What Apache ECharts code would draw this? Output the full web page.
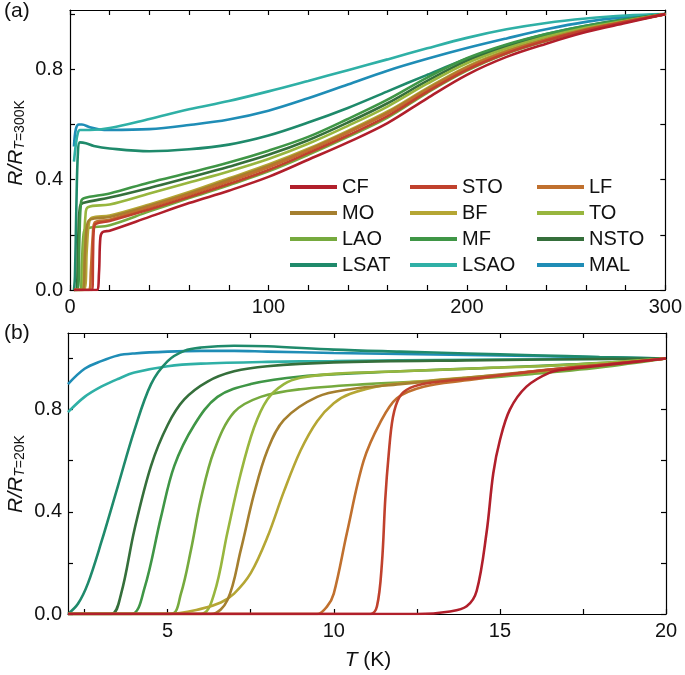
<!DOCTYPE html>
<html>
<head>
<meta charset="utf-8">
<script src="https://cdn.jsdelivr.net/npm/echarts@6/dist/echarts.min.js"></script>
<style>
html,body{margin:0;padding:0;background:#fff;}
#chart{width:685px;height:675px;}
</style>
</head>
<body>
<div id="chart"></div>
<script>
// ---------- DATA ----------
const names = ['CF','STO','LF','MO','BF','TO','LAO','MF','NSTO','LSAT','LSAO','MAL'];

// Panel (a): R/R(300K) vs T (0-300 K)
// shared temperature grid above 20 K
const aT = [20,40,60,80,100,120,140,160,180,200,220,240,260,280,300];
const aHi_CF   = [0.215,0.265,0.315,0.36,0.41,0.472,0.535,0.605,0.695,0.78,0.845,0.893,0.935,0.968,1];
const aHi_STO  = [0.25,0.292,0.337,0.384,0.435,0.496,0.56,0.63,0.718,0.798,0.858,0.904,0.942,0.972,1];
const aHi_LF   = [0.255,0.3,0.345,0.393,0.445,0.505,0.57,0.64,0.725,0.805,0.863,0.907,0.944,0.973,1];
const aHi_MO   = [0.265,0.305,0.35,0.4,0.45,0.508,0.573,0.643,0.728,0.807,0.865,0.909,0.945,0.973,1];
const aHi_BF   = [0.27,0.31,0.355,0.405,0.455,0.512,0.577,0.647,0.732,0.81,0.868,0.91,0.946,0.974,1];
const aHi_TO   = [0.31,0.35,0.39,0.43,0.475,0.53,0.595,0.665,0.748,0.822,0.876,0.918,0.951,0.976,1];
const aHi_LAO  = [0.235,0.285,0.333,0.38,0.43,0.49,0.555,0.625,0.715,0.795,0.857,0.903,0.942,0.971,1];
const aHi_MF   = [0.35,0.39,0.425,0.462,0.505,0.555,0.62,0.69,0.77,0.84,0.89,0.928,0.958,0.98,1];
const aHi_NSTO = [0.335,0.37,0.408,0.447,0.49,0.543,0.607,0.677,0.758,0.831,0.883,0.923,0.955,0.978,1];
const aHi_LSAT = [0.513,0.503,0.51,0.527,0.56,0.607,0.66,0.72,0.78,0.838,0.887,0.928,0.958,0.982,1];
const aHi_LSAO = [0.587,0.62,0.655,0.685,0.72,0.758,0.797,0.836,0.876,0.914,0.945,0.968,0.984,0.995,1];
const aHi_MAL  = [0.58,0.583,0.598,0.618,0.65,0.695,0.745,0.795,0.838,0.877,0.912,0.945,0.972,0.99,1];
// low temperature part (T < 20 K), [T, R/R300]
const aLo_CF   = [[2,0],[13.5,0],[14.6,0.06],[15.3,0.19],[16.5,0.21]];
const aLo_STO  = [[2,0],[11.2,0],[11.6,0.12],[12,0.22],[13,0.24]];
const aLo_LF   = [[2,0],[9.6,0],[10.5,0.07],[11.5,0.2],[12.5,0.245]];
const aLo_MO   = [[2,0],[6.5,0],[7.5,0.13],[8.5,0.23],[10,0.255]];
const aLo_BF   = [[2,0],[7,0],[8.5,0.15],[9.5,0.24],[11,0.262]];
const aLo_TO   = [[2,0],[6,0],[7,0.15],[7.8,0.27],[9,0.3]];
const aLo_LAO  = [[2,0],[5,0],[6,0.1],[6.8,0.2],[8,0.222]];
const aLo_MF   = [[2,0],[3.8,0],[4.8,0.2],[5.6,0.32],[7,0.333]];
const aLo_NSTO = [[2,0],[3.2,0],[4.2,0.2],[5,0.3],[6.5,0.315]];
const aLo_LSAT = [[2,0],[2.5,0.05],[3.2,0.3],[4,0.5],[5,0.535],[8,0.532],[12,0.522]];
const aLo_LSAO = [[2,0.465],[3,0.53],[4,0.57],[5,0.58],[10,0.58]];
const aLo_MAL  = [[2,0.52],[3,0.585],[4.5,0.6],[6,0.6],[10,0.59],[15,0.582]];

// Panel (b): R/R(20K) vs T (2-20 K), [T, R/R20]
const b_CF   = [[2,0],[12.5,0],[13.5,0.01],[14,0.03],[14.3,0.09],[14.6,0.32],[14.8,0.55],[15,0.68],[15.3,0.8],[15.8,0.89],[16.5,0.945],[17,0.958],[18,0.972],[19,0.986],[20,1]];
const b_STO  = [[2,0],[11.1,0],[11.3,0.03],[11.45,0.2],[11.55,0.45],[11.65,0.62],[11.78,0.77],[11.98,0.85],[12.3,0.885],[12.9,0.905],[14.4,0.925],[16.4,0.955],[18,0.975],[20,1]];
const b_LF   = [[2,0],[9.5,0],[9.8,0.03],[10,0.08],[10.4,0.32],[10.9,0.6],[11.4,0.75],[11.9,0.845],[12.7,0.89],[14,0.915],[16,0.95],[18,0.975],[20,1]];
const b_MO   = [[2,0],[6.3,0],[6.8,0.055],[7.2,0.25],[7.6,0.47],[8,0.64],[8.5,0.76],[9.5,0.85],[10.5,0.88],[12,0.9],[14,0.925],[16,0.95],[18,0.975],[20,1]];
const b_BF   = [[2,0],[5,0],[6,0.02],[6.6,0.045],[7,0.08],[7.5,0.16],[8,0.3],[8.5,0.48],[9,0.64],[9.5,0.755],[10,0.825],[10.5,0.862],[11.5,0.895],[13,0.915],[15,0.935],[17,0.96],[20,1]];
const b_TO   = [[2,0],[6,0],[6.4,0.08],[6.8,0.32],[7.2,0.55],[7.6,0.73],[8,0.84],[8.5,0.9],[9,0.925],[10,0.94],[12,0.95],[14,0.96],[17,0.975],[20,1]];
const b_LAO  = [[2,0],[5.1,0],[5.4,0.08],[5.7,0.25],[6,0.45],[6.4,0.64],[7,0.79],[7.8,0.85],[9,0.88],[11,0.9],[13.8,0.918],[16,0.94],[18,0.965],[20,1]];
const b_MF   = [[2,0],[3.9,0],[4.3,0.1],[4.8,0.38],[5.2,0.58],[5.8,0.74],[6.5,0.85],[7.5,0.9],[9,0.93],[12,0.95],[15,0.965],[18,0.982],[20,1]];
const b_NSTO = [[2,0],[3.3,0],[3.6,0.08],[4,0.33],[4.5,0.58],[5,0.74],[5.5,0.84],[6.2,0.91],[7,0.95],[8,0.97],[10,0.985],[14,0.993],[20,1]];
const b_LSAT = [[2,0],[2.3,0.04],[2.6,0.12],[3,0.28],[3.5,0.5],[4,0.72],[4.5,0.9],[5,0.99],[5.5,1.03],[6,1.043],[7,1.05],[8,1.048],[10,1.035],[12,1.027],[14,1.02],[16,1.013],[18,1.006],[20,1]];
const b_LSAO = [[2,0.79],[2.5,0.85],[3,0.89],[3.5,0.92],[4,0.945],[5,0.97],[6,0.98],[8,0.987],[10,0.99],[14,0.995],[20,1]];
const b_MAL  = [[2,0.9],[2.5,0.96],[3,0.99],[3.5,1.012],[4,1.02],[5,1.027],[6,1.03],[7,1.03],[8,1.027],[10,1.022],[12,1.018],[14,1.014],[16,1.01],[18,1.005],[20,1]];

// tick values / labels
const tickAX = [0,20,40,60,80,100,120,140,160,180,200,220,240,260,280,300];
const labelAX = [0,100,200,300];
const tickY = [0,0.2,0.4,0.6,0.8,1.0];
const labelY = [0,0.4,0.8];
const tickBX = [2.5,5,7.5,10,12.5,15,17.5,20];
const labelBX = [5,10,15,20];

const legendCols = [['CF','MO','LAO','LSAT'],['STO','BF','MF','LSAO'],['LF','TO','NSTO','MAL']];

// ---------- STYLE ----------
const colors = ['#b11f2b','#c0412d','#c0702e','#a57f2f','#b5a634','#98b63e','#76aa3e','#3f9646','#356f3b','#1f8a6b','#2fb0a6','#1f8db6'];
const FONT = '"Liberation Sans", Arial, Helvetica, sans-serif';

const aLoList = [aLo_CF,aLo_STO,aLo_LF,aLo_MO,aLo_BF,aLo_TO,aLo_LAO,aLo_MF,aLo_NSTO,aLo_LSAT,aLo_LSAO,aLo_MAL];
const aHiList = [aHi_CF,aHi_STO,aHi_LF,aHi_MO,aHi_BF,aHi_TO,aHi_LAO,aHi_MF,aHi_NSTO,aHi_LSAT,aHi_LSAO,aHi_MAL];
const bList = [b_CF,b_STO,b_LF,b_MO,b_BF,b_TO,b_LAO,b_MF,b_NSTO,b_LSAT,b_LSAO,b_MAL];

const series = [];
names.forEach((n,i)=>{
  const dataA = aLoList[i].concat(aT.map((t,k)=>[t, aHiList[i][k]]));
  const common = {
    type:'line', name:n, showSymbol:false, smooth:0.35,
    lineStyle:{color:colors[i], width:2.6}, itemStyle:{color:colors[i]},
    emphasis:{disabled:true}, z: 2 + (11-i)
  };
  series.push(Object.assign({}, common, {xAxisIndex:0, yAxisIndex:0, data:dataA}));
  series.push(Object.assign({}, common, {xAxisIndex:2, yAxisIndex:2, data:bList[i]}));
});

const axLine = {show:true, onZero:false, lineStyle:{color:'#000', width:1.2}};
const tickSty = {color:'#000', width:1.2};
const lab = {fontSize:20, color:'#111', fontFamily:FONT};
function xAx(grid, min, max, pos, ticks, labels){
  return {gridIndex:grid, type:'value', min:min, max:max, position:pos,
    axisLine:axLine, splitLine:{show:false},
    axisTick:{show:true, inside:true, length:5, lineStyle:tickSty, customValues:ticks},
    axisLabel: labels ? Object.assign({show:true, margin:7, customValues:labels}, lab) : {show:false}};
}
function yAx(grid, min, max, pos, ticks, labels, fmtMargin){
  return {gridIndex:grid, type:'value', min:min, max:max, position:pos,
    axisLine:axLine, splitLine:{show:false},
    axisTick:{show:true, inside:true, length:5, lineStyle:tickSty, customValues:ticks},
    axisLabel: labels ? Object.assign({show:true, margin:fmtMargin, customValues:labels, formatter:(v)=>v.toFixed(1)}, lab) : {show:false}};
}

const legends = legendCols.map((col,ci)=>({
  data:col, orient:'vertical', left:[285,405,532][ci], top:172,
  itemWidth:47, itemHeight:4, itemGap:6, icon:'rect', selectedMode:false,
  textStyle:{fontSize:20, lineHeight:20, color:'#111', fontFamily:FONT, padding:[0,0,0,0]}
}));

const option = {
  animation:false,
  backgroundColor:'#fff',
  legend: legends,
  grid:[
    {left:70, top:10, width:598, height:280},
    {left:68, top:333, width:598, height:281}
  ],
  xAxis:[
    xAx(0,0,300,'bottom',tickAX,labelAX),
    xAx(0,0,300,'top',tickAX,null),
    xAx(1,2,20,'bottom',tickBX,labelBX),
    xAx(1,2,20,'top',tickBX,null)
  ],
  yAxis:[
    yAx(0,0,1.015,'left',tickY,labelY,7),
    yAx(0,0,1.015,'right',tickY,null),
    yAx(1,0,1.1,'left',tickY,labelY,6),
    yAx(1,0,1.1,'right',tickY,null)
  ],
  series: series,
  graphic:[
    {type:'text', left:4, top:1, style:{text:'(a)', fontSize:21, fill:'#111', fontFamily:FONT}},
    {type:'text', left:4, top:323, style:{text:'(b)', fontSize:21, fill:'#111', fontFamily:FONT}},
    {type:'text', x:20, y:143, rotation:Math.PI/2,
      style:{text:'{i|R/R}{si|T}{s|=300K}', align:'center', verticalAlign:'middle', fill:'#111',
        rich:{ i:{fontSize:21, fontStyle:'italic', fontFamily:FONT, fill:'#111', padding:[0,0,7,0]},
               si:{fontSize:14, fontStyle:'italic', fontFamily:FONT, fill:'#111'},
               s:{fontSize:14, fontFamily:FONT, fill:'#111'} }}},
    {type:'text', x:20, y:474, rotation:Math.PI/2,
      style:{text:'{i|R/R}{si|T}{s|=20K}', align:'center', verticalAlign:'middle', fill:'#111',
        rich:{ i:{fontSize:21, fontStyle:'italic', fontFamily:FONT, fill:'#111', padding:[0,0,7,0]},
               si:{fontSize:14, fontStyle:'italic', fontFamily:FONT, fill:'#111'},
               s:{fontSize:14, fontFamily:FONT, fill:'#111'} }}},
    {type:'text', x:368, y:660,
      style:{text:'{i|T}{n| (K)}', align:'center', verticalAlign:'middle', fill:'#111',
        rich:{ i:{fontSize:21, fontStyle:'italic', fontFamily:FONT, fill:'#111'},
               n:{fontSize:21, fontFamily:FONT, fill:'#111'} }}}
  ]
};

const chart = echarts.init(document.getElementById('chart'), null, {renderer:'canvas'});
chart.setOption(option);
</script>
</body>
</html>
